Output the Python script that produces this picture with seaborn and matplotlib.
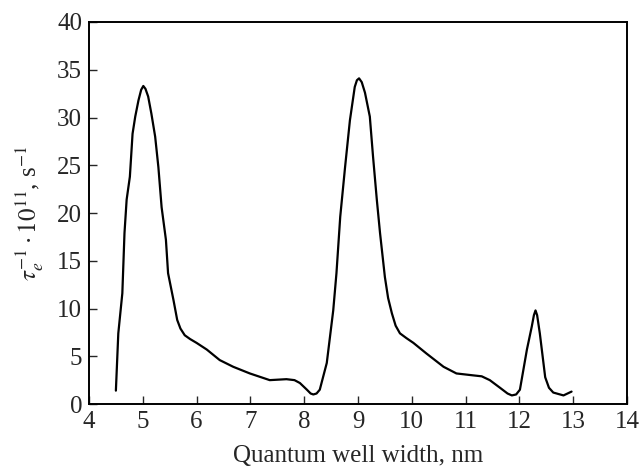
import pandas as pd
import seaborn as sns
import matplotlib.pyplot as plt

width_nm = [4.50, 4.545, 4.62, 4.66, 4.70, 4.76, 4.81, 4.86, 4.92, 4.97,
            5.01, 5.05, 5.10, 5.16, 5.23, 5.29, 5.35, 5.43, 5.47, 5.57,
            5.64, 5.70, 5.78, 5.88, 6.00, 6.19, 6.43, 6.68, 6.99, 7.36,
            7.67, 7.82, 7.92, 8.05, 8.12, 8.17, 8.23, 8.29, 8.42, 8.54,
            8.60, 8.67, 8.76, 8.85, 8.94, 8.98, 9.02, 9.07, 9.13, 9.22,
            9.28, 9.35, 9.41, 9.50, 9.56, 9.63, 9.70, 9.78, 9.90, 10.03,
            10.27, 10.59, 10.83, 11.14, 11.30, 11.45, 11.64, 11.78, 11.86, 11.94,
            12.01, 12.14, 12.23, 12.27, 12.30, 12.33, 12.38, 12.48, 12.55, 12.63,
            12.82, 12.97]
rate = [1.4, 7.4, 11.6, 17.9, 21.4, 23.8, 28.3, 30.1, 31.8, 32.9,
        33.3, 33.0, 32.2, 30.4, 28.0, 24.8, 20.6, 17.2, 13.7, 10.9,
        8.8, 7.9, 7.2, 6.8, 6.4, 5.7, 4.6, 3.9, 3.2, 2.5,
        2.6, 2.5, 2.2, 1.5, 1.1, 1.0, 1.1, 1.5, 4.3, 9.8,
        13.7, 19.6, 24.8, 29.7, 33.2, 33.9, 34.1, 33.7, 32.6, 30.1,
        25.9, 21.4, 17.9, 13.3, 11.1, 9.5, 8.2, 7.4, 6.9, 6.4,
        5.3, 3.9, 3.2, 3.0, 2.9, 2.5, 1.7, 1.1, 0.9, 1.0,
        1.5, 5.7, 8.1, 9.3, 9.8, 9.3, 7.4, 2.8, 1.7, 1.2,
        0.9, 1.3]

x_ticks = list(range(4, 15))
y_ticks = list(range(0, 41, 5))

df = pd.DataFrame({"w": width_nm, "r": rate})

sns.set_style("ticks")
plt.rcParams['font.family'] = ['Liberation Serif', 'DejaVu Serif']
plt.rcParams['mathtext.fontset'] = 'stix'

fig = plt.figure(figsize=(6.42, 4.70), dpi=100)
ax = fig.add_axes([0.1386, 0.1404, 0.838, 0.8128])

sns.lineplot(data=df, x="w", y="r", sort=False, estimator=None,
             color="black", linewidth=1.6, ax=ax)

ax.set_xlim(4, 14)
ax.set_ylim(0, 40)
ax.set_xticks(x_ticks)
ax.set_yticks(y_ticks)
ax.tick_params(direction="in", length=6, width=1, labelsize=18, pad=5)
for s in ax.spines.values():
    s.set_linewidth(1.4)
    s.set_color("black")

ax.set_xlabel("Quantum well width, nm", fontsize=18, labelpad=9)
ax.set_ylabel(r"$\tau_e^{-1}\cdot10^{11}$, s$^{-1}$", fontsize=18, labelpad=9)

fig.savefig("out.png", dpi=100)
